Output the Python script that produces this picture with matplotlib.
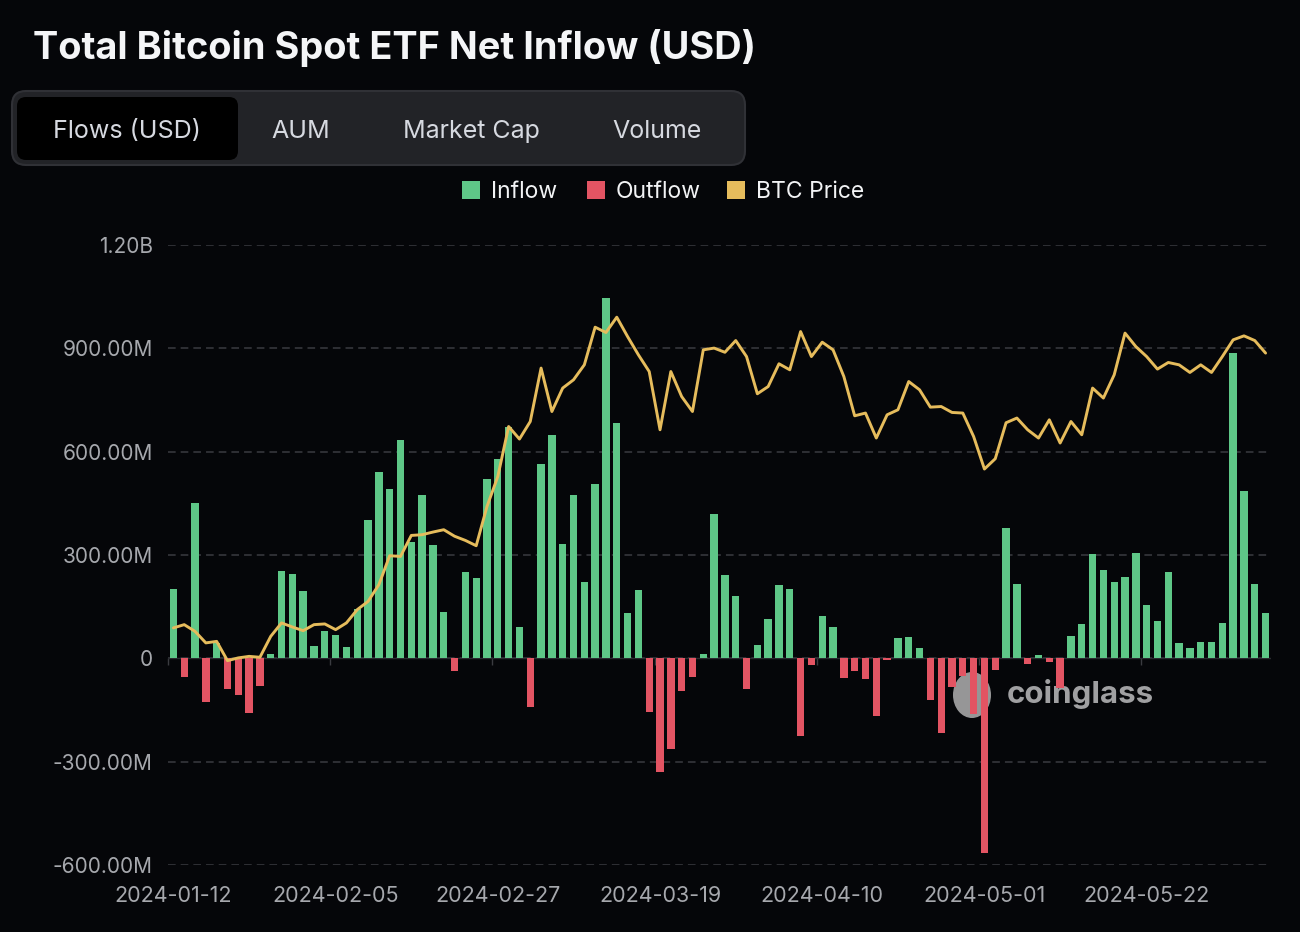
import matplotlib
matplotlib.use("Agg")
import matplotlib.pyplot as plt
from matplotlib.patches import FancyBboxPatch, Rectangle, Ellipse
from matplotlib.ticker import FuncFormatter

# daily net flow, millions USD (one value per trading day from 2024-01-12)
net_flow_m = [
    201, -54, 452, -128, 45, -89, -107, -158, -81, 14,
    253, 246, 196, 37, 78, 67, 33, 144, 403, 540,
    492, 634, 338, 475, 329, 134, -37, 250, 232, 521,
    578, 672, 92, -142, 564, 649, 331, 473, 222, 505,
    1045, 684, 132, 198, -156, -329, -264, -96, -53, 14,
    418, 243, 182, -88, 38, 113, 213, 202, -226, -20,
    122, 90, -57, -38, -59, -167, -6, 58, 61, 31,
    -121, -218, -84, -50, -162, -564, -35, 377, 217, -16,
    11, -11, -85, 66, 101, 302, 257, 221, 237, 306,
    154, 107, 251, 45, 29, 48, 48, 104, 886, 486,
    217, 131,
]

# BTC close price, USD
btc_price = [
    42610, 42930, 42270, 41140, 41290, 39400, 39670, 39820, 39730, 41780,
    43100, 42700, 42340, 42930, 43000, 42440, 43100, 44400, 45210, 46850,
    49690, 49620, 51680, 51750, 52010, 52240, 51600, 51190, 50670, 54520,
    57460, 62360, 61130, 62850, 68090, 63830, 66130, 66940, 68410, 72100,
    71580, 73080, 71180, 69390, 67750, 62040, 67750, 65300, 63830, 69880,
    70050, 69640, 70790, 69220, 65570, 66280, 68510, 67920, 71670, 69220,
    70630, 69880, 67260, 63410, 63680, 61230, 63510, 64000, 66770, 65960,
    64260, 64320, 63740, 63680, 61380, 58190, 59200, 62730, 63190, 62040,
    61230, 63020, 60740, 62850, 61550, 66130, 65150, 67430, 71520, 70200,
    69220, 67990, 68640, 68410, 67660, 68410, 67660, 69220, 70860, 71250,
    70790, 69560,
]

date_labels = ["2024-01-12", "2024-02-05", "2024-02-27", "2024-03-19",
               "2024-04-10", "2024-05-01", "2024-05-22"]
label_step = 15

tabs = ["Flows (USD)", "AUM", "Market Cap", "Volume"]

BG = "#050609"
GREEN = "#5ec787"
RED = "#e35463"
GOLD = "#e6bc5c"
GRID = "#3a3b40"
LABEL = "#a6a8ad"

plt.rcParams["font.family"] = ["Inter", "DejaVu Sans"]

fig = plt.figure(figsize=(13, 9.32), dpi=100, facecolor=BG)

# overlay in pixel coordinates for the header widgets
ov = fig.add_axes([0, 0, 1, 1], zorder=0)
ov.set_xlim(0, 1300)
ov.set_ylim(932, 0)
ov.axis("off")

ov.text(33, 59, "Total Bitcoin Spot ETF Net Inflow (USD)", color="#f4f5f7",
        fontsize=27.3, fontweight="bold", va="baseline", ha="left")

ov.add_patch(FancyBboxPatch((12, 91), 733, 74, boxstyle="round,pad=0,rounding_size=14",
                            facecolor="#222327", edgecolor="#303136", linewidth=1.5))
ov.add_patch(FancyBboxPatch((17, 97), 221, 63, boxstyle="round,pad=0,rounding_size=9",
                            facecolor="#000000", edgecolor="none"))
tab_x = [127, 301, 471, 657]
for t, x in zip(tabs, tab_x):
    ov.text(x, 138, t, color="#d6d9e0", fontsize=18, ha="center", va="baseline")

legend_items = [("Inflow", GREEN, 462), ("Outflow", RED, 587), ("BTC Price", GOLD, 727)]
for name, c, x in legend_items:
    ov.add_patch(Rectangle((x, 181), 18, 18, facecolor=c, edgecolor="none"))
    ov.text(x + 29, 198, name, color="#f2f3f5", fontsize=16.5, ha="left", va="baseline")

# watermark
ov.add_patch(Ellipse((972, 695), 38, 46, facecolor="#c8c8c8", alpha=0.75, edgecolor="none", zorder=5))
ov.text(1007, 694, "coinglass", color="#a9a9ab", fontsize=22.5, fontweight="bold",
        ha="left", va="center", zorder=5, alpha=0.95)

# main chart
ax = fig.add_axes([168 / 1300, 1 - 865 / 932, 1103 / 1300, 620 / 932], zorder=1)
ax.set_facecolor("none")
idx = list(range(len(net_flow_m)))
colors = [GREEN if v >= 0 else RED for v in net_flow_m]
ax.bar(idx, net_flow_m, width=0.68, color=colors, zorder=3)

ax.set_xlim(-0.5, len(net_flow_m) - 0.5)
ax.set_ylim(-600, 1200)
ax.set_yticks([-600, -300, 0, 300, 600, 900, 1200])
ax.yaxis.set_major_formatter(FuncFormatter(
    lambda v, p: "0" if v == 0 else ("%.2fB" % (v / 1000) if abs(v) >= 1000 else "%.2fM" % v)))
ax.grid(axis="y", color=GRID, linestyle=(0, (5, 3.3)), linewidth=1.1, zorder=0)

ax.set_xticks([i * label_step for i in range(len(date_labels))])
ax.set_xticklabels(date_labels)
ax.tick_params(axis="x", length=0, pad=15, labelsize=15.5, labelcolor=LABEL)
ax.tick_params(axis="y", length=0, pad=11, labelsize=15, labelcolor=LABEL)
for s in ax.spines.values():
    s.set_visible(False)
ax.axhline(0, color="#2a2b30", linewidth=1.0, zorder=2)

# category boundary ticks sitting on the zero line
ylo, yhi = ax.get_ylim()
zax = ax.secondary_xaxis((0 - ylo) / (yhi - ylo))
zax.set_xticks([i * label_step - 0.5 for i in range(len(date_labels) + 1)])
zax.tick_params(axis="x", length=5, color="#3a3b40", width=1, labelbottom=False)
zax.spines["bottom"].set_visible(False)

ax2 = ax.twinx()
ax2.plot(idx, btc_price, color=GOLD, linewidth=2.1, solid_joinstyle="round",
         solid_capstyle="round", zorder=4)
ax2.set_ylim(19360, 80160)
ax2.set_yticks([])
for s in ax2.spines.values():
    s.set_visible(False)

fig.savefig("out.png", dpi=100, facecolor=BG)
